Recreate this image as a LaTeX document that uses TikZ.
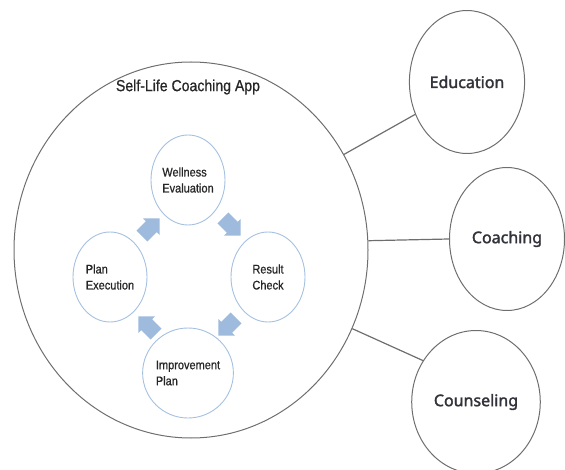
\documentclass[tikz,border=0pt]{standalone}
\usepackage{fontspec}
\setmainfont{Liberation Sans}
\newfontfamily\narrowsans[FakeStretch=0.88,FakeBold=0.8]{Liberation Sans}
\newfontfamily\labelsans[FakeBold=2]{Noto Sans}
\usetikzlibrary{shapes.geometric,shapes.arrows}

\definecolor{ringblue}{RGB}{165,192,225}
\definecolor{flowblue}{RGB}{158,186,221}
\definecolor{rimgray}{RGB}{110,110,110}
\definecolor{labelgray}{RGB}{50,50,58}

\tikzset{
  stage/.style={ellipse, draw=ringblue, line width=0.9pt, minimum width=74pt,
    minimum height=90pt, inner sep=0pt, align=left, text=black!85,
    font=\narrowsans\fontsize{12.5}{16}\selectfont},
  service/.style={ellipse, draw=rimgray, line width=1pt, minimum width=115pt,
    minimum height=143pt, text=labelgray,
    font=\labelsans\fontsize{16}{19}\selectfont},
  flow/.style={single arrow, fill=flowblue, draw=none, inner xsep=0pt,
    inner ysep=7.5pt, minimum height=25pt, single arrow head extend=4pt},
  link/.style={draw=rimgray, line width=1.2pt}
}

\begin{document}
\begin{tikzpicture}[x=1pt,y=-1pt]
\useasboundingbox (0,0) rectangle (565,470);

% the app and its cycle
\node[ellipse, draw=rimgray, line width=1pt, inner sep=0pt, minimum width=354pt, minimum height=376pt] (app) at (191,250) {};
\node[font=\narrowsans\fontsize{16}{19}\selectfont, text=black!85] (title) at (188,87) {Self-Life Coaching App};

\node[stage] (wellness) at (188,180) {Wellness\\Evaluation};
\node[stage] (result) at (268,277) {Result\\Check};
\node[stage] (improve) at (188,373) {Improvement\\Plan};
\node[stage] (planexec) at (110,277) {Plan\\Execution};

\node[flow, rotate=-45] (flowA) at (229,224) {};
\node[flow, rotate=-135] (flowB) at (230,324) {};
\node[flow, rotate=135] (flowC) at (150,328) {};
\node[flow, rotate=45] (flowD) at (148,230) {};

% services around it
\node[service] (edu) at (467,82) {Education};
\node[service] (coach) at (507,239) {Coaching};
\node[service] (counsel) at (476,402) {Counseling};

\draw[link] (app.32) -- (edu.212);
\draw[link] (app.3.5) -- (coach.180);
\draw[link] (app.-26) -- (counsel.142);
\end{tikzpicture}
\end{document}
